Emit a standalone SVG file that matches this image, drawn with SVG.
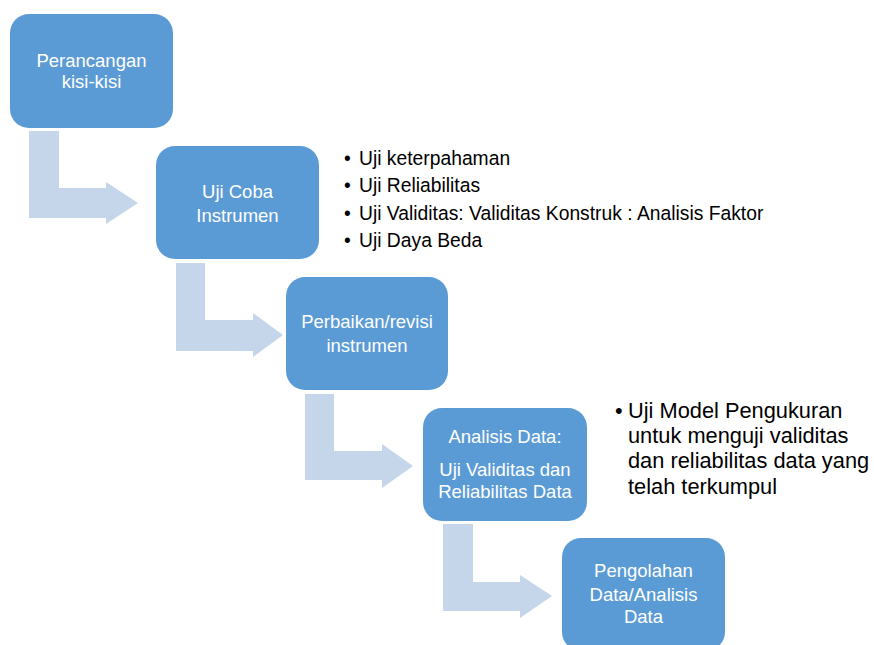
<svg xmlns="http://www.w3.org/2000/svg" width="874" height="645" viewBox="0 0 874 645">
<style>
.box{fill:#5B9BD5;}
.arr{fill:#C5D5EA;}
.bt{font-family:"Liberation Sans",Arial,sans-serif;font-size:18.5px;fill:#FFFFFF;text-anchor:middle;}
.l1{font-family:"Liberation Sans",Arial,sans-serif;font-size:19.3px;fill:#000000;}
.l2{font-family:"Liberation Sans",Arial,sans-serif;font-size:21.8px;fill:#000000;}
</style>
<rect width="874" height="645" fill="#FFFFFF"/>
<g id="connectors">
<polygon class="arr" points="29,131 59,131 59,188 106,188 106,182 138,203 106,224 106,218 29,218"/>
<polygon class="arr" points="176,263 205,263 205,320 253,320 253,313 283,335 253,357 253,351 176,351"/>
<polygon class="arr" points="305,394 334,394 334,451 382,451 382,444 413,466 382,488 382,480 305,480"/>
<polygon class="arr" points="443,524 473,524 473,582 520,582 520,575 552,596 520,618 520,611 443,611"/>
</g>
<g id="node1">
<rect class="box" x="10" y="14" width="163" height="114" rx="19"/>
<text class="bt" x="91.5" y="67">Perancangan</text>
<text class="bt" x="91.5" y="88">kisi-kisi</text>
</g>
<g id="node2">
<rect class="box" x="156" y="146" width="163" height="113" rx="19"/>
<text class="bt" x="237.5" y="198">Uji Coba</text>
<text class="bt" x="237.5" y="222">Instrumen</text>
</g>
<g id="node3">
<rect class="box" x="286" y="277" width="162" height="113" rx="19"/>
<text class="bt" x="367" y="328">Perbaikan/revisi</text>
<text class="bt" x="367" y="352">instrumen</text>
</g>
<g id="node4">
<rect class="box" x="423" y="408" width="164" height="113" rx="19"/>
<text class="bt" x="505" y="443">Analisis Data:</text>
<text class="bt" x="505" y="476">Uji Validitas dan</text>
<text class="bt" x="505" y="498">Reliabilitas Data</text>
</g>
<g id="node5">
<rect class="box" x="562" y="538" width="163" height="113" rx="19"/>
<text class="bt" x="643.5" y="577">Pengolahan</text>
<text class="bt" x="643.5" y="601">Data/Analisis</text>
<text class="bt" x="643.5" y="623">Data</text>
</g>
<g id="list1">
<text class="l1" x="344" y="165">•</text><text class="l1" x="359" y="165">Uji keterpahaman</text>
<text class="l1" x="344" y="192">•</text><text class="l1" x="359" y="192">Uji Reliabilitas</text>
<text class="l1" x="344" y="220">•</text><text class="l1" x="359" y="220">Uji Validitas: Validitas Konstruk : Analisis Faktor</text>
<text class="l1" x="344" y="247">•</text><text class="l1" x="359" y="247">Uji Daya Beda</text>
</g>
<g id="list2">
<text class="l2" x="615" y="418">•</text><text class="l2" x="628" y="418">Uji Model Pengukuran</text>
<text class="l2" x="628" y="443">untuk menguji validitas</text>
<text class="l2" x="628" y="468">dan reliabilitas data yang</text>
<text class="l2" x="628" y="494">telah terkumpul</text>
</g>
</svg>
